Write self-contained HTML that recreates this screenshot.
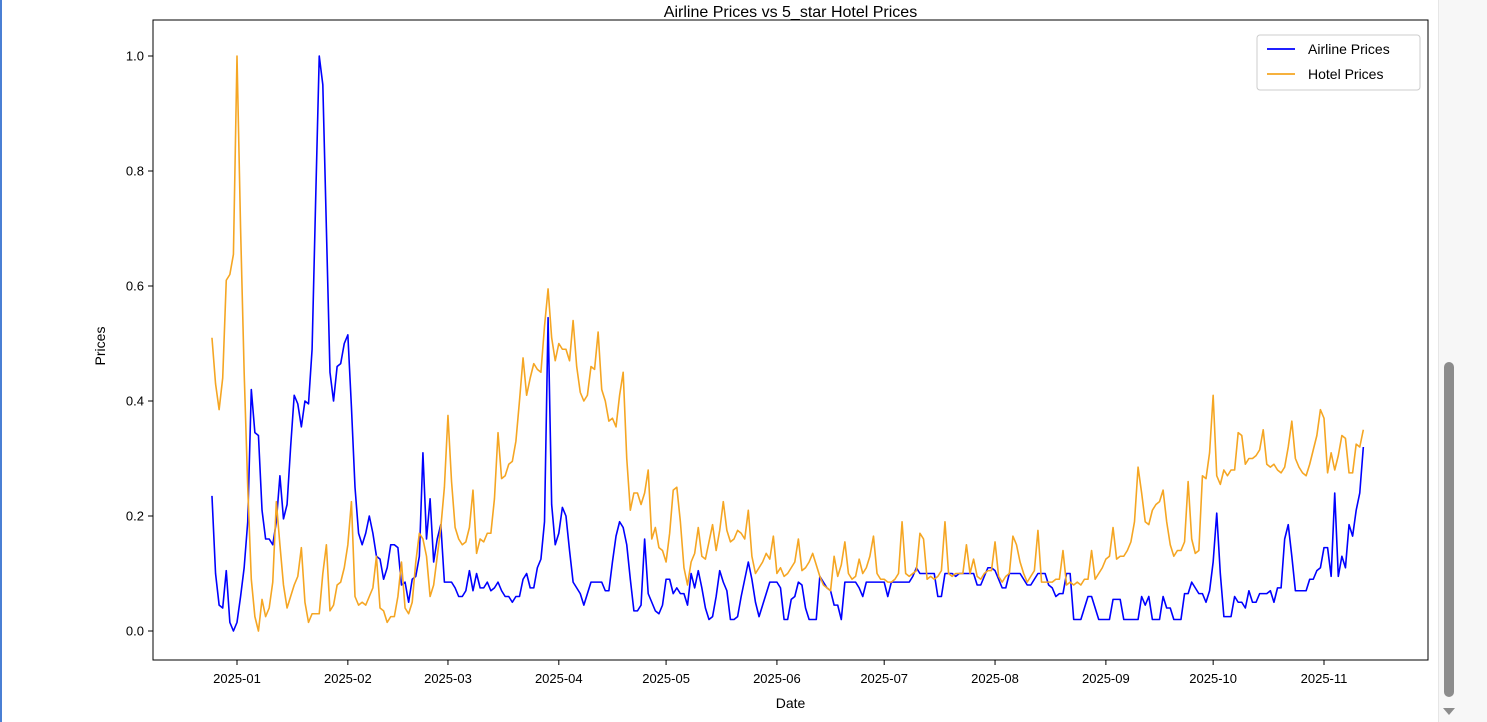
<!DOCTYPE html>
<html><head><meta charset="utf-8"><style>
html,body{margin:0;padding:0;background:#fff;width:1487px;height:722px;overflow:hidden;font-family:"Liberation Sans","DejaVu Sans",sans-serif}
#wrap{position:relative;width:1487px;height:722px}
</style></head><body>
<div id="wrap">
<div style="position:absolute;left:0;top:0;width:2px;height:722px;background:#4a7fd4"></div>
<div style="position:absolute;left:1438px;top:0;width:49px;height:722px;background:#f7f7f7;border-left:1px solid #e6e6e6"></div>
<div style="position:absolute;left:1444px;top:362px;width:10px;height:335px;background:#8c8c8c;border-radius:5px"></div>
<div style="position:absolute;left:1443px;top:708px;width:0;height:0;border-left:6px solid transparent;border-right:6px solid transparent;border-top:7px solid #8c8c8c"></div>
<svg id="chart" width="1487" height="722" style="position:absolute;left:0;top:0"></svg>
</div>
<script>
const startDate = "2024-12-25";
const airlinePrices = [0.235,0.10,0.045,0.04,0.105,0.015,0.0,0.015,0.06,0.11,0.19,0.42,0.345,0.34,0.21,0.16,0.16,0.15,0.19,0.27,0.195,0.22,0.32,0.41,0.395,0.355,0.40,0.395,0.49,0.75,1.0,0.95,0.70,0.45,0.40,0.46,0.465,0.50,0.515,0.39,0.25,0.17,0.15,0.17,0.20,0.17,0.13,0.125,0.09,0.11,0.15,0.15,0.145,0.08,0.085,0.05,0.09,0.095,0.13,0.31,0.16,0.23,0.12,0.16,0.185,0.085,0.085,0.085,0.075,0.06,0.06,0.07,0.105,0.07,0.10,0.075,0.075,0.085,0.07,0.075,0.085,0.07,0.06,0.06,0.05,0.06,0.06,0.09,0.10,0.075,0.075,0.11,0.125,0.19,0.545,0.22,0.15,0.17,0.215,0.20,0.14,0.085,0.075,0.065,0.045,0.065,0.085,0.085,0.085,0.085,0.07,0.07,0.12,0.165,0.19,0.18,0.15,0.09,0.035,0.035,0.045,0.16,0.065,0.05,0.035,0.03,0.045,0.09,0.09,0.065,0.075,0.065,0.065,0.045,0.10,0.075,0.105,0.075,0.04,0.02,0.025,0.06,0.105,0.085,0.07,0.02,0.02,0.025,0.06,0.09,0.12,0.09,0.05,0.025,0.045,0.065,0.085,0.085,0.085,0.075,0.02,0.02,0.055,0.06,0.085,0.08,0.04,0.02,0.02,0.02,0.095,0.085,0.075,0.07,0.045,0.045,0.02,0.085,0.085,0.085,0.085,0.075,0.06,0.085,0.085,0.085,0.085,0.085,0.085,0.06,0.085,0.085,0.085,0.085,0.085,0.085,0.095,0.11,0.10,0.10,0.10,0.10,0.10,0.06,0.06,0.10,0.10,0.10,0.095,0.10,0.10,0.10,0.10,0.10,0.08,0.08,0.095,0.11,0.11,0.105,0.09,0.075,0.075,0.10,0.10,0.10,0.10,0.09,0.08,0.08,0.09,0.10,0.10,0.10,0.08,0.075,0.06,0.065,0.065,0.10,0.10,0.02,0.02,0.02,0.04,0.06,0.06,0.04,0.02,0.02,0.02,0.02,0.055,0.055,0.055,0.02,0.02,0.02,0.02,0.02,0.06,0.045,0.06,0.02,0.02,0.02,0.06,0.04,0.04,0.02,0.02,0.02,0.065,0.065,0.085,0.075,0.065,0.065,0.05,0.07,0.12,0.205,0.10,0.025,0.025,0.025,0.06,0.05,0.05,0.04,0.07,0.05,0.05,0.065,0.065,0.065,0.07,0.05,0.075,0.075,0.16,0.185,0.13,0.07,0.07,0.07,0.07,0.09,0.09,0.105,0.11,0.145,0.145,0.095,0.24,0.095,0.13,0.11,0.185,0.165,0.21,0.24,0.32];
const hotelPrices = [0.51,0.43,0.385,0.44,0.61,0.62,0.655,1.0,0.70,0.45,0.25,0.09,0.025,0.0,0.055,0.025,0.04,0.085,0.225,0.15,0.08,0.04,0.06,0.08,0.095,0.145,0.05,0.015,0.03,0.03,0.03,0.10,0.15,0.035,0.045,0.08,0.085,0.11,0.15,0.225,0.06,0.045,0.05,0.045,0.06,0.075,0.13,0.04,0.035,0.015,0.025,0.025,0.06,0.12,0.04,0.03,0.05,0.12,0.17,0.16,0.13,0.06,0.08,0.13,0.18,0.25,0.375,0.26,0.18,0.16,0.15,0.155,0.18,0.245,0.135,0.16,0.155,0.17,0.17,0.23,0.345,0.265,0.27,0.29,0.295,0.33,0.40,0.475,0.41,0.44,0.465,0.455,0.45,0.53,0.595,0.51,0.47,0.50,0.49,0.49,0.47,0.54,0.46,0.415,0.40,0.41,0.46,0.455,0.52,0.42,0.40,0.365,0.37,0.355,0.41,0.45,0.30,0.21,0.24,0.24,0.22,0.24,0.28,0.16,0.18,0.145,0.14,0.12,0.17,0.245,0.25,0.19,0.11,0.08,0.12,0.135,0.18,0.13,0.125,0.155,0.185,0.14,0.175,0.225,0.175,0.155,0.16,0.175,0.17,0.16,0.21,0.13,0.10,0.11,0.12,0.135,0.125,0.165,0.10,0.11,0.095,0.10,0.11,0.12,0.16,0.105,0.11,0.12,0.135,0.115,0.095,0.08,0.075,0.07,0.13,0.095,0.115,0.155,0.10,0.09,0.095,0.125,0.10,0.11,0.13,0.165,0.10,0.09,0.09,0.085,0.085,0.09,0.10,0.19,0.10,0.095,0.10,0.105,0.17,0.16,0.09,0.095,0.09,0.095,0.105,0.19,0.10,0.095,0.10,0.10,0.10,0.15,0.10,0.125,0.095,0.09,0.10,0.105,0.105,0.155,0.095,0.085,0.095,0.10,0.165,0.15,0.12,0.10,0.085,0.095,0.105,0.175,0.085,0.085,0.085,0.085,0.09,0.09,0.14,0.08,0.085,0.08,0.085,0.08,0.09,0.09,0.14,0.09,0.10,0.11,0.125,0.13,0.18,0.125,0.13,0.13,0.14,0.155,0.19,0.285,0.24,0.19,0.185,0.21,0.22,0.225,0.245,0.19,0.15,0.13,0.14,0.14,0.155,0.26,0.16,0.135,0.14,0.27,0.265,0.31,0.41,0.27,0.255,0.28,0.27,0.28,0.28,0.345,0.34,0.29,0.30,0.30,0.305,0.315,0.35,0.29,0.285,0.29,0.28,0.275,0.285,0.32,0.365,0.30,0.285,0.275,0.27,0.29,0.315,0.34,0.385,0.37,0.275,0.31,0.28,0.305,0.34,0.335,0.275,0.275,0.325,0.32,0.35];
const xTickLabels = ["2025-01","2025-02","2025-03","2025-04","2025-05","2025-06","2025-07","2025-08","2025-09","2025-10","2025-11"];
const yTickValues = [0.0,0.2,0.4,0.6,0.8,1.0];

const NS="http://www.w3.org/2000/svg";
const svg=document.getElementById('chart');
const L=153,R=1428,T=20,B=660;
const DAY=86400000;
const t0=Date.parse("2025-01-01T00:00:00Z");
const pxPerDay=(1324-237)/304;
function xScale(ms){return 237+(ms-t0)/DAY*pxPerDay;}
function yScale(v){return 631-v*575;}
function el(tag,attrs){const e=document.createElementNS(NS,tag);for(const k in attrs)e.setAttribute(k,attrs[k]);svg.appendChild(e);return e;}
const s0=Date.parse(startDate+"T00:00:00Z");
function dateAt(i){return s0+i*DAY;}

const frame=el('rect',{x:L,y:T,width:R-L,height:B-T,fill:'none',stroke:'#000','stroke-width':1});



yTickValues.forEach(v=>{
  const y=yScale(v);
  const tk=el('line',{x1:L-5,x2:L,y1:y,y2:y,stroke:'#000'});
  
  
  const t=el('text',{x:L-9,y:y+4.5,'text-anchor':'end','font-size':13,fill:'#000'});
  t.textContent=v.toFixed(1);
  
  
});
xTickLabels.forEach(lab=>{
  const x=xScale(Date.parse(lab+"-01T00:00:00Z"));
  const tk=el('line',{x1:x,x2:x,y1:B,y2:B+5,stroke:'#000'});
  
  
  const t=el('text',{x:x,y:B+23,'text-anchor':'middle','font-size':13,fill:'#000'});
  t.textContent=lab;
  
  
});

function drawLine(vals,color,name){
  const d=vals.map((v,i)=>(i?'L':'M')+xScale(dateAt(i)).toFixed(2)+','+yScale(v).toFixed(2)).join('');
  const p=el('path',{d:d,fill:'none',stroke:color,'stroke-width':1.6,'stroke-linejoin':'round'});
  
  
}
drawLine(airlinePrices,'#0000ff','airline-prices-line');
drawLine(hotelPrices,'#f5a623','hotel-prices-line');

const title=el('text',{x:(L+R)/2,y:17,'text-anchor':'middle','font-size':16,fill:'#000'});
title.textContent="Airline Prices vs 5_star Hotel Prices";


const xt=el('text',{x:(L+R)/2,y:708,'text-anchor':'middle','font-size':14,fill:'#000'});
xt.textContent="Date";


const yt=el('text',{x:0,y:0,'text-anchor':'middle','font-size':14,fill:'#000',transform:'translate(105,346) rotate(-90)'});
yt.textContent="Prices";



const lg=el('rect',{x:1257,y:35,width:163,height:55,rx:3,fill:'#fff',stroke:'#ccc'});


[['Airline Prices','#0000ff',49],['Hotel Prices','#f5a623',74]].forEach(([n,c,y])=>{
  const ln=el('line',{x1:1267,x2:1295,y1:y,y2:y,stroke:c,'stroke-width':1.8});
  
  
  const t=el('text',{x:1308,y:y+5,'font-size':14,fill:'#000'});
  t.textContent=n;
  
  
});
</script>
</body></html>
